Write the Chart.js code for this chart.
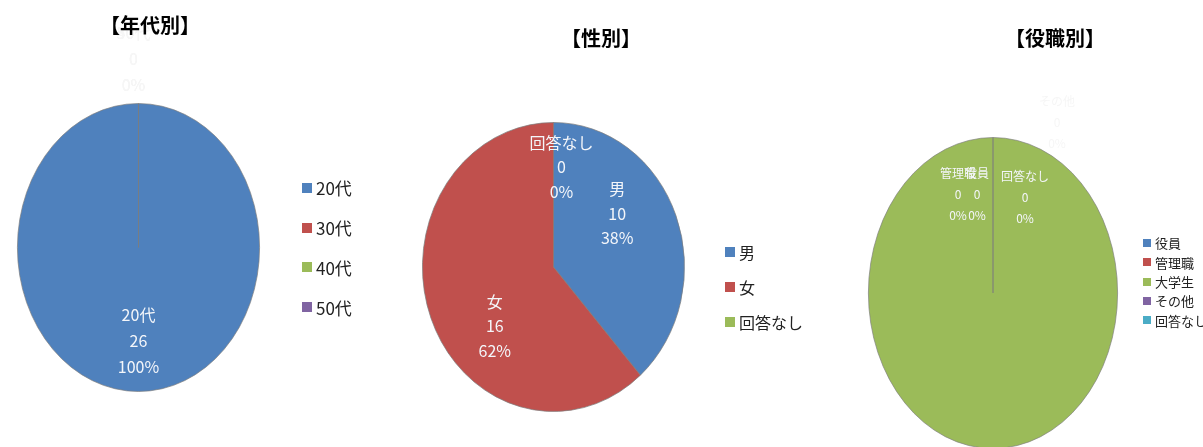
<!DOCTYPE html>
<html lang="ja">
<head>
<meta charset="utf-8">
<title>回答者の属性</title>
<script src="https://cdn.jsdelivr.net/npm/chart.js@4.4.1/dist/chart.umd.min.js"></script>
<style>
  html, body { margin: 0; padding: 0; background: #fff; }
  body { width: 1203px; height: 447px; overflow: hidden; position: relative;
         font-family: 'Noto Sans CJK JP', 'Noto Sans', sans-serif; }
  canvas { position: absolute; top: 0; left: -20px; }
  .title { position: absolute; font-weight: bold; font-size: 20px; color: #000;
           transform: translate(-50%, -50%); white-space: nowrap; z-index: 2; }
  .legend { position: absolute; color: #222; }
  .legend div { display: flex; align-items: center; white-space: nowrap; }
  .legend span { display: inline-block; margin-right: 4px; }
</style>
</head>
<body>
<canvas id="age" width="1243" height="470"></canvas>
<canvas id="gender" width="1243" height="470"></canvas>
<canvas id="role" width="1243" height="470"></canvas>
<div class="title" style="left:150px; top:24px">【年代別】</div>
<div class="title" style="left:601px; top:37px">【性別】</div>
<div class="title" style="left:1055px; top:37px">【役職別】</div>
<script>
// counts per group
const ageLabels = ['20代', '30代', '40代', '50代'];
const ageCounts = [26, 0, 0, 0];
const genderLabels = ['男', '女', '回答なし'];
const genderCounts = [10, 16, 0];
const roleLabels = ['役員', '管理職', '大学生', 'その他', '回答なし'];
const roleCounts = [0, 0, 26, 0, 0];

const palette = ['#4F81BD', '#C0504D', '#9BBB59', '#8064A2', '#4BACC6'];
const CANVAS_W = 1243, CANVAS_H = 470, SHIFT = 20;
const FAINT = '#f6f6f6';

// squash the pie horizontally into an ellipse around its centre
const ellipsePlugin = {
  id: 'ellipse',
  beforeDatasetsDraw(chart, args, opts) {
    const arc = chart.getDatasetMeta(0).data[0];
    const ctx = chart.ctx;
    ctx.save();
    ctx.translate(arc.x, arc.y);
    ctx.scale(opts.sx, 1);
    ctx.translate(-arc.x, -arc.y);
  },
  afterDatasetsDraw(chart) {
    chart.ctx.restore();
  }
};

// "name / count / percent" labels inside the slices
const sliceLabels = {
  id: 'sliceLabels',
  afterDraw(chart, args, opts) {
    const ctx = chart.ctx;
    const ds = chart.data.datasets[0];
    const total = ds.data.reduce((a, b) => a + b, 0);
    const sx = chart.options.plugins.ellipse.sx;
    ctx.save();
    ctx.font = opts.font;
    ctx.textAlign = 'center';
    ctx.textBaseline = 'middle';
    chart.getDatasetMeta(0).data.forEach((arc, i) => {
      const nudge = opts.nudge[i];
      if (!nudge) return;
      const mid = (arc.startAngle + arc.endAngle) / 2;
      const r = arc.outerRadius * opts.depth;
      const x = arc.x + Math.cos(mid) * r * sx + nudge[0];
      const y = arc.y + Math.sin(mid) * r + nudge[1];
      const lines = [chart.data.labels[i], String(ds.data[i]),
                     Math.round(ds.data[i] / total * 100) + '%'];
      ctx.fillStyle = nudge[2] || opts.color;
      lines.forEach((t, k) => ctx.fillText(t, x, y + (k - 1) * opts.lineHeight));
    });
    ctx.restore();
  }
};

function makePie(id, labels, counts, geo, labelOpts) {
  const cx = geo.cx + SHIFT;
  return new Chart(document.getElementById(id), {
    type: 'pie',
    data: {
      labels: labels,
      datasets: [{
        data: counts,
        backgroundColor: palette.slice(0, labels.length),
        borderColor: 'rgba(125,125,125,0.75)',
        borderWidth: 1
      }]
    },
    options: {
      responsive: false,
      animation: false,
      events: [],
      layout: {
        padding: {
          left: cx - geo.ry,
          right: CANVAS_W - cx - geo.ry,
          top: geo.cy - geo.ry,
          bottom: CANVAS_H - geo.cy - geo.ry
        }
      },
      plugins: {
        legend: { display: false },
        tooltip: { enabled: false },
        ellipse: { sx: geo.rx / geo.ry },
        sliceLabels: labelOpts
      }
    },
    plugins: [ellipsePlugin, sliceLabels]
  });
}

function buildLegend(chart, cfg) {
  const box = document.createElement('div');
  box.className = 'legend';
  box.style.left = cfg.x + 'px';
  box.style.top = (cfg.y - cfg.row / 2) + 'px';
  box.style.fontSize = cfg.size + 'px';
  chart.data.labels.forEach((label, i) => {
    const row = document.createElement('div');
    row.style.height = cfg.row + 'px';
    const sw = document.createElement('span');
    sw.style.width = cfg.box + 'px';
    sw.style.height = cfg.box + 'px';
    sw.style.background = chart.data.datasets[0].backgroundColor[i];
    row.appendChild(sw);
    row.appendChild(document.createTextNode(label));
    box.appendChild(row);
  });
  document.body.appendChild(box);
}

const ageChart = makePie('age', ageLabels, ageCounts,
  { cx: 138.5, cy: 247.5, rx: 121.5, ry: 144.5 },
  { font: '16px "Noto Sans CJK JP"', color: '#f4f6fa', lineHeight: 26, depth: 0.65,
    nudge: [[0, 0], [-5, -95, FAINT], [-5, -95, FAINT], [-5, -95, FAINT]] });

const genderChart = makePie('gender', genderLabels, genderCounts,
  { cx: 553.5, cy: 267, rx: 131.5, ry: 145 },
  { font: '16px "Noto Sans CJK JP"', color: '#f4f6fa', lineHeight: 24.5, depth: 0.65,
    nudge: [[-16, -20], [21, 26], [8, -6]] });

const roleChart = makePie('role', roleLabels, roleCounts,
  { cx: 993, cy: 293, rx: 125, ry: 156 },
  { font: '12px "Noto Sans CJK JP"', color: '#f4f6fa', lineHeight: 21, depth: 0.65,
    nudge: [[-16, 3], [-35, 3], null, [64, -69, FAINT], [32, 6]] });

buildLegend(ageChart, { x: 302, y: 188, row: 39.7, size: 17, box: 10 });
buildLegend(genderChart, { x: 725, y: 252, row: 35, size: 16, box: 10 });
buildLegend(roleChart, { x: 1143, y: 243, row: 19.3, size: 13, box: 8 });
</script>
</body>
</html>
